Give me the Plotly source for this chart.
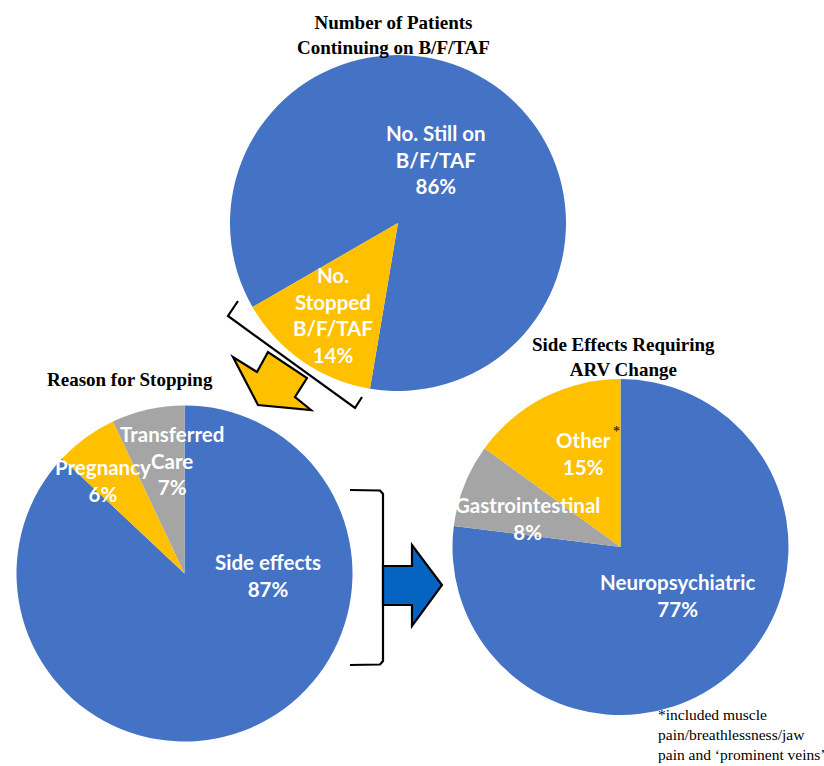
import plotly.graph_objects as go

W, H = 824, 766

# ---------------- data ----------------
top_labels = ["No. Still on B/F/TAF", "No. Stopped B/F/TAF"]
top_display = ["No. Still on<br>B/F/TAF", "No.<br>Stopped<br>B/F/TAF"]
top_values = [86, 14]

reason_labels = ["Side effects", "Pregnancy", "Transferred Care"]
reason_display = ["Side effects", "Pregnancy", "Transferred<br>Care"]
reason_values = [87, 6, 7]

se_labels = ["Neuropsychiatric", "Gastrointestinal", "Other"]
se_display = ["Neuropsychiatric", "Gastrointestinal", "Other"]
se_values = [77, 8, 15]

BLUE, ORANGE, GREY = "#4472C4", "#FFC000", "#A5A5A5"


def px(x):
    return x / W


def py(y):
    return 1 - y / H


def dom(cx, cy, r):
    return dict(x=[px(cx - r), px(cx + r)], y=[py(cy + r), py(cy - r)])


fig = go.Figure()

R = 168
fig.add_trace(go.Pie(
    labels=top_labels, values=top_values, sort=False, direction="clockwise",
    rotation=240, marker=dict(colors=[BLUE, ORANGE], line=dict(width=0)),
    textinfo="none", hoverinfo="label+percent", domain=dom(398, 223, R),
    showlegend=False,
))
fig.add_trace(go.Pie(
    labels=reason_labels, values=reason_values, sort=False, direction="clockwise",
    rotation=0, marker=dict(colors=[BLUE, ORANGE, GREY], line=dict(width=0)),
    textinfo="none", hoverinfo="label+percent", domain=dom(184.5, 573.5, R),
    showlegend=False,
))
fig.add_trace(go.Pie(
    labels=se_labels, values=se_values, sort=False, direction="clockwise",
    rotation=0, marker=dict(colors=[BLUE, GREY, ORANGE], line=dict(width=0)),
    textinfo="none", hoverinfo="label+percent", domain=dom(620.5, 547, R),
    showlegend=False,
))

LABEL_FONT = dict(family="Lato, Open Sans, sans-serif", size=20.5, color="white")
annotations = []


def add_label(text, x, y, font=LABEL_FONT, xanchor="center", yanchor="middle", align="center"):
    annotations.append(dict(
        text=text, x=px(x), y=py(y), xref="paper", yref="paper",
        xanchor=xanchor, yanchor=yanchor, align=align, showarrow=False, font=font,
    ))


top_pos = [(436, 159.5), (333, 315)]
for d, v, (x, y) in zip(top_display, top_values, top_pos):
    add_label(f"<b>{d}<br>{v}%</b>", x, y)

reason_pos = [(268, 575), (103, 480), (172, 461)]
for d, v, (x, y) in zip(reason_display, reason_values, reason_pos):
    add_label(f"<b>{d}<br>{v}%</b>", x, y)

se_pos = [(677, 595.5), (527, 518.5), (583, 453)]
for d, v, (x, y) in zip(se_display, se_values, se_pos):
    add_label(f"<b>{d}<br>{v}%</b>", x, y)

add_label("*", 616, 431, font=dict(family="Liberation Serif, serif", size=14, color="black"))

TITLE_FONT = dict(family="Liberation Serif, Times New Roman, serif", size=19, color="black")
add_label("<b>Number of Patients<br>Continuing on B/F/TAF</b>", 393, 35, font=TITLE_FONT)
add_label("<b>Reason for Stopping</b>", 130, 379, font=TITLE_FONT)
add_label("<b>Side Effects Requiring<br>ARV Change</b>", 623, 356.5, font=TITLE_FONT)

add_label("*included muscle<br>pain/breathlessness/jaw<br>pain and \u2018prominent veins\u2019",
          656, 704, font=dict(family="Liberation Serif, Times New Roman, serif", size=15.5, color="black"),
          xanchor="left", yanchor="top", align="left")


def path(points, close=False):
    s = "M " + " L ".join(f"{px(x):.5f},{py(y):.5f}" for x, y in points)
    return s + (" Z" if close else "")


shapes = []
# rotated bracket under top pie
shapes.append(dict(type="path", xref="paper", yref="paper",
                   path=path([(238, 301), (228, 316), (355, 408), (362, 397)]),
                   line=dict(color="black", width=2.2)))
# yellow arrow
shapes.append(dict(type="path", xref="paper", yref="paper",
                   path=path([(268, 352), (257, 372), (233, 357), (258, 405),
                              (311, 410), (295, 397), (307, 378)], close=True),
                   fillcolor=ORANGE, line=dict(color="black", width=2.2)))
# right bracket
shapes.append(dict(type="path", xref="paper", yref="paper",
                   path=path([(350, 490), (380, 490.5), (383, 494), (383, 661), (380, 664.5), (350, 665)]),
                   line=dict(color="black", width=2.2)))
# blue arrow
shapes.append(dict(type="path", xref="paper", yref="paper",
                   path=path([(383, 566), (412, 566), (412, 545), (442, 585),
                              (412, 626), (412, 605), (383, 605)], close=True),
                   fillcolor="#0563C1", line=dict(color="black", width=2.2)))

fig.update_layout(
    width=W, height=H, autosize=False,
    margin=dict(l=0, r=0, t=0, b=0),
    paper_bgcolor="white", plot_bgcolor="white",
    annotations=annotations, shapes=shapes,
    showlegend=False,
)

fig.write_html("out.html")
